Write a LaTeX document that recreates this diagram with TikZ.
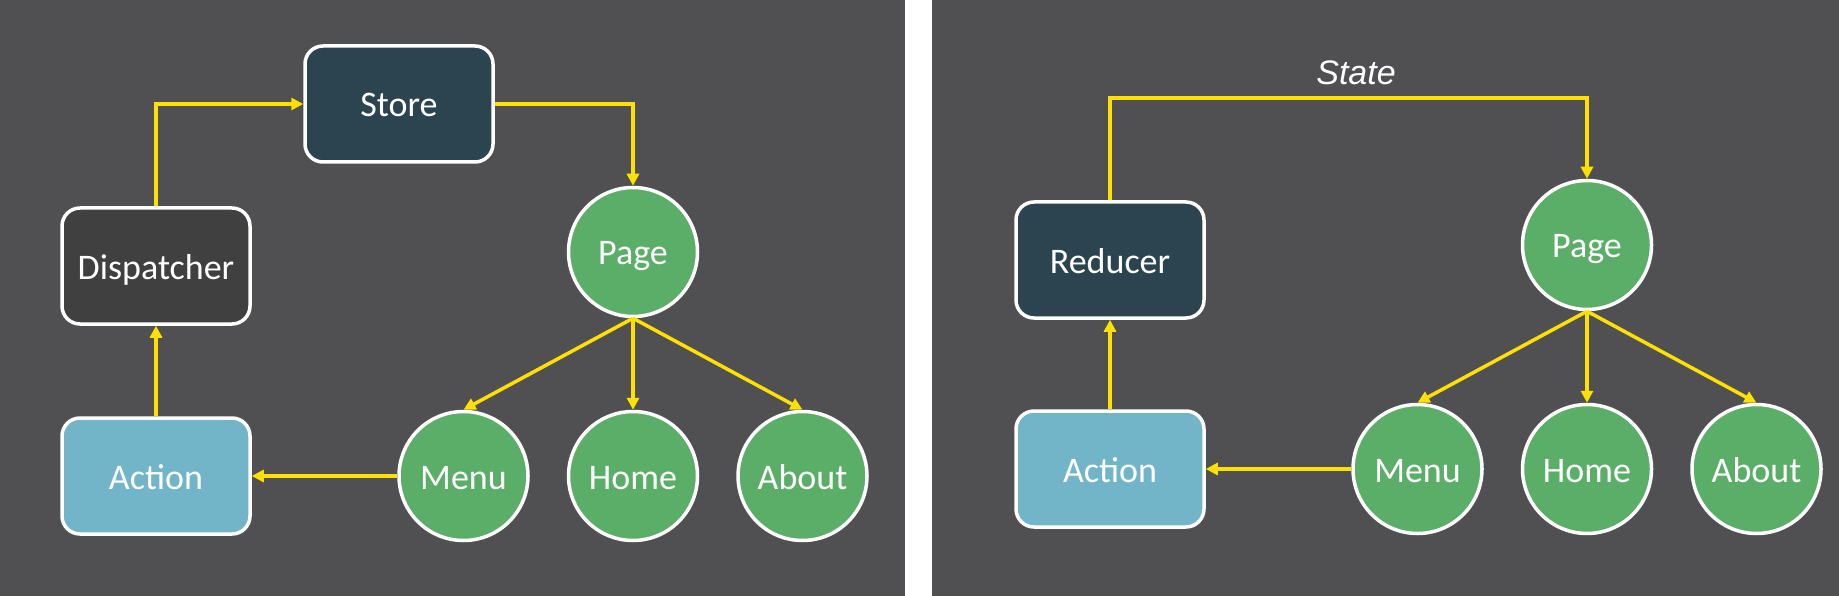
\documentclass[tikz,border=0pt]{standalone}
\usepackage{fontspec}
\setmainfont{Carlito}
\newfontfamily\statefont{Liberation Sans}
\usetikzlibrary{arrows.meta}
\definecolor{Panel}{HTML}{505052}
\definecolor{StoreBlue}{HTML}{2B4450}
\definecolor{DispGray}{HTML}{404040}
\definecolor{ActionBlue}{HTML}{72B5C8}
\definecolor{ViewGreen}{HTML}{5BAE67}
\definecolor{Flow}{HTML}{FFE000}

\begin{document}
\begin{tikzpicture}[x=1pt, y=-1pt, -{Triangle[length=12pt,width=12pt]}, color=Flow, line width=3.5pt,
      every node/.append style={font=\fontsize{36}{40}\selectfont, text=white, draw=white, line width=3.5pt,
        text height=35pt, text depth=9pt},
      level 1/.style={sibling distance=169.5pt, level distance=224pt},
      edge from parent path={(\tikzparentnode.south) -- (\tikzchildnode.north)}]
    \tikzstyle{block} = [rectangle, rounded corners=18pt, minimum width=188pt, minimum height=116pt]
    \tikzstyle{view} = [circle, fill=ViewGreen, minimum size=129pt, inner sep=0pt]
    \tikzstyle{caption} = [draw=none, font=\statefont\itshape\fontsize{34}{40}\selectfont, text height=, text depth=]
    \useasboundingbox (0,0) rectangle (1839,596);
    \fill[white] (0,0) rectangle (1839,596);
    \fill[Panel] (0,0) rectangle (905,596);
    \fill[Panel] (932,0) rectangle (1839,596);
    % flux
    \node[block, fill=StoreBlue] (store) at (399,104) {Store};
    \node[block, fill=DispGray] (dispatcher) at (156,266) {Dispatcher};
    \node[block, fill=ActionBlue] (action) at (156,476) {Action};
    \node[view] (page) at (633,252) {Page}
      child {node[view] (menu) {Menu}}
      child {node[view] (home) {Home}}
      child {node[view] (about) {About}};
    \draw (dispatcher.north) |- (store.west);
    \draw (store.east) -| (page.north);
    \draw (menu.west) -- (action.east);
    \draw (action.north) -- (dispatcher.south);
    % redux
    \node[block, fill=StoreBlue] (reducer) at (1110,260) {Reducer};
    \node[block, fill=ActionBlue] (action2) at (1110,469) {Action};
    \node[view] (page2) at (1587,245) {Page}
      child {node[view] (menu2) {Menu}}
      child {node[view] (home2) {Home}}
      child {node[view] (about2) {About}};
    \coordinate (bend) at (1110,98);
    \node[caption, anchor=base] (state) at (1356,85) {State};
    \draw (reducer.north) -- (bend) -| (page2.north);
    \draw (menu2.west) -- (action2.east);
    \draw (action2.north) -- (reducer.south);
\end{tikzpicture}
\end{document}
